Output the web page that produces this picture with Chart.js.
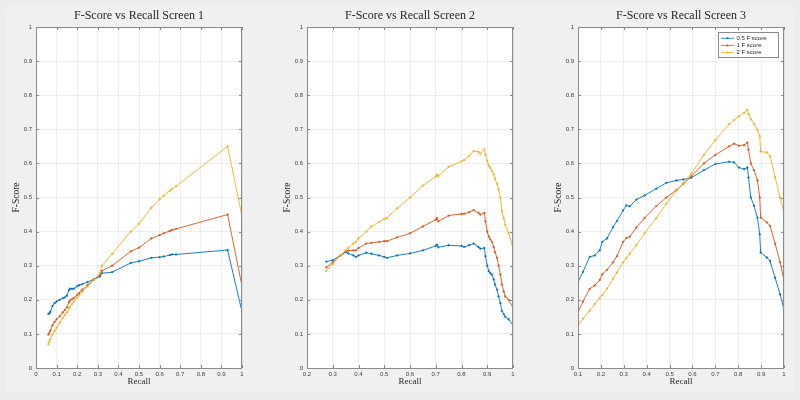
<!DOCTYPE html>
<html>
<head>
<meta charset="utf-8">
<script src="https://cdn.jsdelivr.net/npm/chart.js@4.4.1/dist/chart.umd.min.js"></script>
<style>
html,body{margin:0;padding:0;width:800px;height:400px;overflow:hidden;background:#ececec}
#panel{position:absolute;left:5px;top:5px;width:790px;height:388px;background:#f0f0f0;border-radius:5px}
.cw{position:absolute;top:0;width:278px;height:400px}
canvas{display:block}
</style>
</head>
<body>
<div id="panel"></div>
<div class="cw" style="left:0px"><canvas id="c1" width="278" height="400"></canvas></div>
<div class="cw" style="left:271px"><canvas id="c2" width="278" height="400"></canvas></div>
<div class="cw" style="left:542px"><canvas id="c3" width="278" height="400"></canvas></div>
<script>
// ---------- data ----------
const seriesLabels = ['0.5 F score', '1 F score', '2 F score'];
const titles = ['F-Score vs Recall Screen 1', 'F-Score vs Recall Screen 2', 'F-Score vs Recall Screen 3'];
const xMins = [0, 0.2, 0.1];

// Screen 1
const recall1 = [0.06, 0.065, 0.07, 0.08, 0.09, 0.1, 0.115, 0.13, 0.14, 0.15, 0.16, 0.165, 0.175, 0.185, 0.2, 0.21, 0.225, 0.25, 0.28, 0.31, 0.32, 0.37, 0.46, 0.5, 0.56, 0.6, 0.62, 0.65, 0.66, 0.68, 0.93, 1.0];
const f05s1 = [0.159, 0.16, 0.165, 0.182, 0.19, 0.195, 0.2, 0.205, 0.207, 0.212, 0.228, 0.233, 0.232, 0.233, 0.24, 0.243, 0.246, 0.252, 0.26, 0.268, 0.278, 0.281, 0.308, 0.313, 0.323, 0.325, 0.327, 0.331, 0.333, 0.333, 0.346, 0.165];
const f1s1 = [0.098, 0.103, 0.11, 0.125, 0.135, 0.143, 0.152, 0.163, 0.17, 0.178, 0.193, 0.198, 0.202, 0.206, 0.215, 0.22, 0.23, 0.243, 0.258, 0.272, 0.285, 0.3, 0.342, 0.353, 0.38, 0.39, 0.395, 0.402, 0.405, 0.408, 0.45, 0.24];
const f2s1 = [0.07, 0.077, 0.085, 0.098, 0.108, 0.118, 0.133, 0.147, 0.155, 0.163, 0.175, 0.18, 0.188, 0.195, 0.207, 0.213, 0.224, 0.238, 0.258, 0.278, 0.3, 0.335, 0.4, 0.423, 0.47, 0.495, 0.505, 0.52, 0.525, 0.533, 0.65, 0.445];

// Screen 2
const recall2 = [0.275, 0.3, 0.33, 0.35, 0.36, 0.38, 0.39, 0.4, 0.43, 0.45, 0.48, 0.5, 0.51, 0.55, 0.6, 0.65, 0.7, 0.705, 0.71, 0.75, 0.8, 0.81, 0.83, 0.847, 0.866, 0.873, 0.889, 0.893, 0.9, 0.906, 0.912, 0.918, 0.925, 0.93, 0.938, 0.944, 0.951, 0.957, 0.964, 0.97, 0.983, 1.0];
const f05s2 = [0.312, 0.316, 0.33, 0.34, 0.336, 0.33, 0.326, 0.33, 0.338, 0.335, 0.33, 0.326, 0.323, 0.33, 0.336, 0.345, 0.358, 0.362, 0.354, 0.36, 0.358, 0.355, 0.36, 0.365, 0.355, 0.35, 0.352, 0.328, 0.3, 0.284, 0.278, 0.274, 0.26, 0.245, 0.23, 0.21, 0.19, 0.167, 0.158, 0.15, 0.143, 0.125];
const f1s2 = [0.295, 0.31, 0.33, 0.342, 0.344, 0.345, 0.345, 0.352, 0.365, 0.367, 0.37, 0.372, 0.372, 0.383, 0.395, 0.415, 0.435, 0.44, 0.43, 0.447, 0.452, 0.452, 0.457, 0.463, 0.455, 0.45, 0.455, 0.43, 0.4, 0.385, 0.377, 0.37, 0.355, 0.34, 0.323, 0.3, 0.274, 0.245, 0.225, 0.21, 0.2, 0.177];
const f2s2 = [0.285, 0.305, 0.33, 0.345, 0.352, 0.365, 0.37, 0.38, 0.4, 0.415, 0.428, 0.437, 0.44, 0.468, 0.5, 0.535, 0.562, 0.567, 0.563, 0.59, 0.606, 0.61, 0.622, 0.636, 0.634, 0.628, 0.642, 0.625, 0.607, 0.593, 0.587, 0.578, 0.568, 0.555, 0.54, 0.524, 0.5, 0.46, 0.44, 0.42, 0.395, 0.352];

// Screen 3
const recall3 = [0.1, 0.122, 0.151, 0.173, 0.195, 0.206, 0.227, 0.253, 0.27, 0.297, 0.311, 0.326, 0.355, 0.391, 0.442, 0.486, 0.53, 0.56, 0.595, 0.65, 0.7, 0.76, 0.782, 0.803, 0.826, 0.84, 0.845, 0.855, 0.869, 0.884, 0.894, 0.898, 0.925, 0.939, 0.961, 0.983, 1.0];
const f05s3 = [0.252, 0.282, 0.326, 0.33, 0.345, 0.37, 0.38, 0.413, 0.431, 0.462, 0.477, 0.474, 0.494, 0.506, 0.526, 0.543, 0.55, 0.553, 0.558, 0.58, 0.598, 0.605, 0.603, 0.588, 0.583, 0.588, 0.559, 0.5, 0.476, 0.441, 0.392, 0.339, 0.324, 0.314, 0.265, 0.216, 0.172];
const f1s3 = [0.164, 0.195, 0.232, 0.242, 0.258, 0.275, 0.288, 0.31, 0.328, 0.37, 0.381, 0.385, 0.412, 0.44, 0.475, 0.5, 0.522, 0.54, 0.562, 0.6, 0.625, 0.65, 0.658, 0.652, 0.654, 0.661, 0.64, 0.6, 0.58, 0.55, 0.5, 0.441, 0.427, 0.417, 0.365, 0.31, 0.256];
const f2s3 = [0.125, 0.145, 0.168, 0.188, 0.205, 0.214, 0.233, 0.262, 0.28, 0.31, 0.322, 0.335, 0.36, 0.395, 0.44, 0.482, 0.52, 0.542, 0.57, 0.625, 0.668, 0.715, 0.727, 0.738, 0.748, 0.757, 0.745, 0.73, 0.716, 0.698, 0.68, 0.635, 0.632, 0.622, 0.56, 0.5, 0.456];

const yTicksMin = 0, yTicksMax = 1;

// ---------- styles ----------
const lineColors = ['#0072BD', '#D95319', '#EDB120'];
const gridColor = 'rgba(38,38,38,0.08)';
const axisColor = '#8a8a8a';
const tickFont = {family: 'Liberation Sans, Arial, sans-serif', size: 6};
const serif = 'Liberation Serif, Times New Roman, serif';

const bgPlugin = {
  id: 'whiteArea',
  beforeDraw(chart) {
    const {ctx, chartArea: a} = chart;
    ctx.save();
    ctx.fillStyle = '#ffffff';
    ctx.fillRect(a.left, a.top, a.right - a.left, a.bottom - a.top);
    ctx.restore();
  }
};

const boxPlugin = {
  id: 'matlabBox',
  afterDraw(chart) {
    const {ctx, chartArea: a, scales} = chart;
    ctx.save();
    ctx.strokeStyle = axisColor;
    ctx.lineWidth = 1;
    ctx.strokeRect(Math.round(a.left) + 0.5, Math.round(a.top) + 0.5, Math.round(a.right - a.left) - 1, Math.round(a.bottom - a.top));
    const tl = 3;
    ctx.beginPath();
    scales.x.ticks.forEach(t => {
      const px = Math.round(scales.x.getPixelForValue(t.value)) + 0.5;
      ctx.moveTo(px, a.bottom); ctx.lineTo(px, a.bottom - tl);
      ctx.moveTo(px, a.top); ctx.lineTo(px, a.top + tl);
    });
    scales.y.ticks.forEach(t => {
      const py = Math.round(scales.y.getPixelForValue(t.value)) + 0.5;
      ctx.moveTo(a.left, py); ctx.lineTo(a.left + tl, py);
      ctx.moveTo(a.right, py); ctx.lineTo(a.right - tl, py);
    });
    ctx.stroke();
    ctx.restore();
  }
};

const legendPlugin = {
  id: 'insideLegend',
  afterDraw(chart, args, opts) {
    if (!opts.show) return;
    const {ctx, chartArea: a} = chart;
    const w = 60, h = 25;
    const x0 = a.right - 6 - w, y0 = a.top + 5;
    ctx.save();
    ctx.fillStyle = '#ffffff';
    ctx.fillRect(x0, y0, w, h);
    ctx.strokeStyle = '#8a8a8a';
    ctx.lineWidth = 1;
    ctx.strokeRect(Math.round(x0) + 0.5, Math.round(y0) + 0.5, w, h);
    ctx.font = '6px ' + tickFont.family;
    ctx.textBaseline = 'middle';
    ctx.textAlign = 'left';
    chart.data.datasets.forEach((ds, i) => {
      const yy = y0 + 6.3 + i * 7.1;
      ctx.strokeStyle = ds.borderColor;
      ctx.fillStyle = ds.borderColor;
      ctx.lineWidth = 0.8;
      ctx.beginPath();
      ctx.moveTo(x0 + 3, yy); ctx.lineTo(x0 + 16, yy);
      ctx.stroke();
      ctx.beginPath();
      ctx.arc(x0 + 9.5, yy, 1, 0, Math.PI * 2);
      ctx.fill();
      ctx.fillStyle = '#262626';
      ctx.fillText(ds.label, x0 + 18.5, yy);
    });
    ctx.restore();
  }
};

function makeChart(id, idx, recall, series, showLegend) {
  const datasets = series.map((vals, i) => ({
    label: seriesLabels[i],
    data: recall.map((r, k) => ({x: r, y: vals[k]})),
    borderColor: lineColors[i],
    backgroundColor: lineColors[i],
    borderWidth: 0.9,
    pointRadius: 0.9,
    pointBorderWidth: 0.4,
    pointHoverRadius: 0,
    tension: 0,
    order: 2 - i
  }));
  return new Chart(document.getElementById(id), {
    type: 'line',
    data: {datasets},
    options: {
      responsive: false,
      animation: false,
      layout: {padding: {left: 0, right: 36, top: 0, bottom: 0}},
      plugins: {
        legend: {display: false},
        tooltip: {enabled: false},
        title: {
          display: true, text: titles[idx], fullSize: false,
          font: {family: serif, size: 12, weight: 'normal'}, color: '#262626',
          padding: {top: 9, bottom: 3.6}
        },
        insideLegend: {show: showLegend}
      },
      scales: {
        x: {
          type: 'linear', min: xMins[idx], max: 1,
          ticks: {stepSize: 0.1, autoSkip: false, maxRotation: 0, font: tickFont, color: '#404040', padding: 3,
                  callback: v => String(Math.round(v * 10) / 10)},
          grid: {color: gridColor, drawTicks: false},
          border: {display: false},
          title: {display: true, text: 'Recall', font: {family: serif, size: 9}, color: '#262626', padding: {top: 0, bottom: 12.6}},
          afterFit: s => { s.height = 32; }
        },
        y: {
          type: 'linear', min: yTicksMin, max: yTicksMax,
          ticks: {stepSize: 0.1, autoSkip: false, font: tickFont, color: '#404040', padding: 4,
                  callback: v => String(Math.round(v * 10) / 10)},
          grid: {color: gridColor, drawTicks: false},
          border: {display: false},
          title: {display: true, text: 'F-Score', font: {family: serif, size: 9.5}, color: '#262626', padding: {top: 10.3, bottom: 0}},
          afterFit: s => { s.width = 36; }
        }
      }
    },
    plugins: [bgPlugin, boxPlugin, legendPlugin]
  });
}

makeChart('c1', 0, recall1, [f05s1, f1s1, f2s1], false);
makeChart('c2', 1, recall2, [f05s2, f1s2, f2s2], false);
makeChart('c3', 2, recall3, [f05s3, f1s3, f2s3], true);
</script>
</body>
</html>
